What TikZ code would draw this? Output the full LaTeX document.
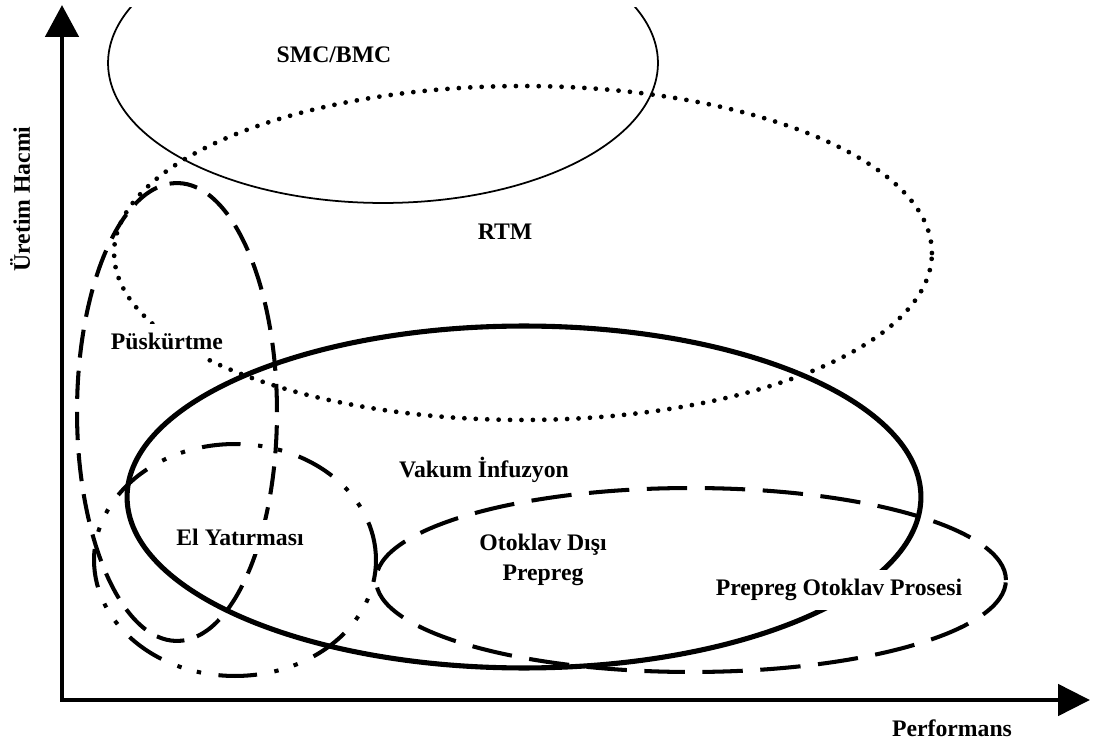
\documentclass[tikz,border=0pt]{standalone}
\usepackage{fontspec}
\setmainfont{Liberation Serif}
\usepackage{tikz}
\usetikzlibrary{arrows.meta}

\begin{document}
\begin{tikzpicture}[x=0.02cm, y=0.02cm,
  lbl/.style={font=\fontsize{13.5}{17}\selectfont\bfseries, align=center},
  mask/.style={lbl, fill=white, inner sep=5pt},
  axis/.style={line width=2.8pt, line join=miter,
    {Triangle[length=0.64cm, width=0.66cm]}-{Triangle[length=0.64cm, width=0.62cm]}}]
  \useasboundingbox (0,0) rectangle (1093,745);
  % Axes
  \coordinate (origin) at (62,45);
  \coordinate (ytip) at (62,740);
  \coordinate (xtip) at (1090,45);
  \draw[axis] (ytip) -- (origin) -- (xtip);
  % Process regions
  \begin{scope}
    \clip (0,0) rectangle (1093,737);
    \draw[line width=1pt] (383,682) ellipse [x radius=5.5cm, y radius=2.8cm];
  \end{scope}
  \draw[line width=2.7pt, line cap=round, dash pattern=on 0pt off 6.5pt]
    (523,492) ellipse [x radius=8.18cm, y radius=3.34cm];
  \draw[line width=2.3pt, dash pattern=on 16pt off 7.5pt]
    (177,333) ellipse [x radius=2cm, y radius=4.58cm];
  \draw[line width=2.3pt, dash pattern=on 22pt off 10pt on 2.5pt off 9pt on 2.5pt off 10pt]
    (235,185) ellipse [x radius=2.82cm, y radius=2.32cm];
  \draw[line width=2.9pt] (524,248) ellipse [x radius=7.94cm, y radius=3.42cm];
  \draw[line width=2.3pt, dash pattern=on 23pt off 10pt]
    (691,165) ellipse [x radius=6.3cm, y radius=1.84cm];
  % Labels
  \node[lbl] (smc) at (334,690) {SMC/BMC};
  \node[lbl] (rtm) at (505,513) {RTM};
  \node[mask] (pusk) at (167,404) {Püskürtme};
  \node[lbl] (vakum) at (484,275) {Vakum İnfuzyon};
  \node[mask] (el) at (240,208) {El Yatırması};
  \node[lbl] (oop) at (543,185) {Otoklav Dışı\\Prepreg};
  \node[mask] (poa) at (839,155) {Prepreg Otoklav Prosesi};
  \node[lbl, rotate=90] (yaxis) at (20,546) {Üretim Hacmi};
  \node[lbl] (xaxis) at (952,17) {Performans};
\end{tikzpicture}
\end{document}
